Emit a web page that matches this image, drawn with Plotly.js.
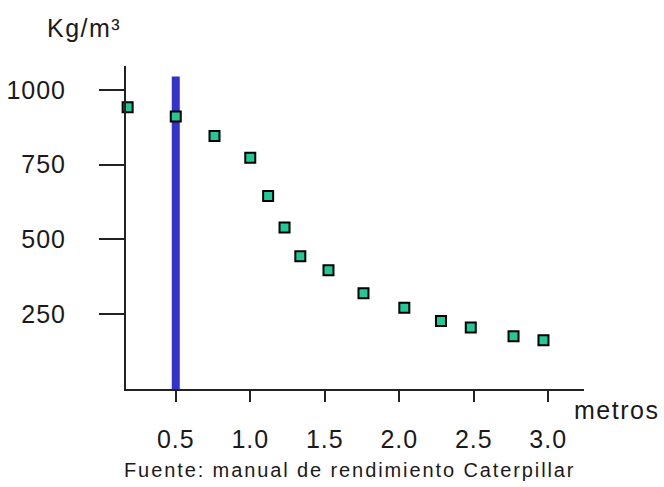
<!DOCTYPE html>
<html>
<head>
<meta charset="utf-8">
<script src="https://cdn.plot.ly/plotly-3.0.1.min.js"></script>
<style>
html,body{margin:0;padding:0;background:#fff;}
#chart{width:664px;height:487px;}
text.annotation-text{letter-spacing:1.5px;}
.xtick text,.ytick text{letter-spacing:1px;}
</style>
</head>
<body>
<div id="chart"></div>
<script>
// Data
const distanciaMetros = [0.177, 0.50, 0.76, 1.0, 1.12, 1.23, 1.336, 1.525, 1.76, 2.034, 2.28, 2.48, 2.767, 2.968];
const densidadKgM3 = [942, 911, 846, 773, 645, 540, 444, 397, 320, 272, 227, 206, 176, 163];
const lineaX = [0.5, 0.5];
const lineaY = [0, 1045];
const xTickVals = [0.5, 1.0, 1.5, 2.0, 2.5, 3.0];
const xTickText = ['0.5', '1.0', '1.5', '2.0', '2.5', '3.0'];
const yTickVals = [250, 500, 750, 1000];
const yTickText = ['250', '500', '750', '1000'];

const FONT = 'Liberation Sans, Arial, sans-serif';
const TXT = '#1a1a1a';

const traces = [
  {
    x: lineaX, y: lineaY, mode: 'lines', type: 'scatter',
    line: {color: '#3333cc', width: 8}, hoverinfo: 'skip', showlegend: false
  },
  {
    x: distanciaMetros, y: densidadKgM3, mode: 'markers', type: 'scatter',
    cliponaxis: false,
    marker: {symbol: 'square', size: 10, color: '#22c896', line: {color: '#000', width: 2}},
    showlegend: false
  }
];

const layout = {
  width: 664, height: 487,
  margin: {l: 126, r: 80, t: 66, b: 98},
  paper_bgcolor: '#fff', plot_bgcolor: '#fff',
  showlegend: false,
  xaxis: {
    range: [0.166, 3.24], showgrid: false, zeroline: false,
    showline: true, linecolor: '#222', linewidth: 2,
    ticks: 'outside', ticklen: 11, tickwidth: 2, tickcolor: '#222',
    tickvals: xTickVals, ticktext: xTickText,
    tickfont: {family: FONT, size: 25, color: TXT},
    ticklabelstandoff: 16
  },
  yaxis: {
    range: [0, 1080], showgrid: false, zeroline: false,
    showline: true, linecolor: '#222', linewidth: 2,
    ticks: 'outside', ticklen: 25, tickwidth: 2, tickcolor: '#222',
    tickvals: yTickVals, ticktext: yTickText,
    tickfont: {family: FONT, size: 25, color: TXT},
    ticklabelstandoff: 28
  },
  annotations: [
    {text: 'Kg/m³', xref: 'paper', yref: 'paper', x: -0.0917, y: 1.118,
     xanchor: 'center', yanchor: 'middle', showarrow: false,
     font: {family: FONT, size: 25, color: TXT}},
    {text: 'metros', xref: 'paper', yref: 'paper', x: 1.072, y: -0.065,
     xanchor: 'center', yanchor: 'middle', showarrow: false,
     font: {family: FONT, size: 25, color: TXT}},
    {text: '<span style="letter-spacing:1.9px">Fuente: manual de rendimiento Caterpillar</span>', xref: 'paper', yref: 'paper', x: 0.487, y: -0.251,
     xanchor: 'center', yanchor: 'middle', showarrow: false,
     font: {family: FONT, size: 20, color: TXT}}
  ]
};

Plotly.newPlot('chart', traces, layout, {displayModeBar: false, staticPlot: true});
</script>
</body>
</html>
